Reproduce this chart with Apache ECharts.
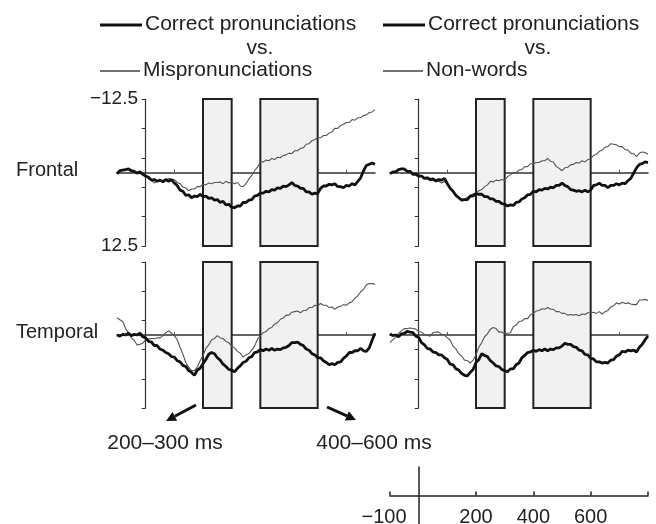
<!DOCTYPE html>
<html>

<head>
    <meta charset="utf-8" />
    <script src="https://cdn.jsdelivr.net/npm/echarts@6/dist/echarts.min.js"></script>
</head>

<body style="margin:0">
    <div id="main" style="width: 656px;height:524px;"></div>
    <script type="text/javascript">
        // sample times (ms), one value every 10 ms from -100 to 800
        const times = [];
        for (let t = -100; t <= 800; t += 10) times.push(t);

        // analysis windows (ms)
        const windows = [[200, 300], [400, 600]];

        // Frontal, left: correct pronunciations vs mispronunciations (µV)
        const frontalCorrectL = [
            0.2, -0.3, -0.4, -0.5, -0.6, -0.3, -0.2, 0.1, -0.1, 0.3,
            0.6, 0.8, 1.3, 1.2, 1.5, 1.3, 1.6, 1.2, 1.5, 1.2,
            1.8, 2.2, 3.0, 3.2, 3.9, 3.8, 4.3, 4.0, 4.1, 3.7,
            4.1, 4.0, 4.4, 4.3, 4.7, 4.6, 5.1, 4.9, 5.5, 5.4,
            5.9, 6.0, 5.7, 5.7, 5.1, 5.1, 4.7, 4.6, 4.0, 3.9,
            3.5, 3.5, 3.2, 3.3, 2.9, 3.0, 2.6, 2.7, 2.3, 2.4,
            2.1, 1.7, 2.2, 2.3, 2.7, 2.7, 3.3, 3.3, 3.7, 3.5,
            3.6, 2.7, 2.3, 2.3, 2.0, 2.1, 1.9, 2.4, 2.4, 2.6,
            2.2, 2.3, 1.9, 2.1, 1.5, 0.9, -0.3, -1.2, -1.4, -1.6,
            -1.4
        ];
        const frontalMispron = [
            0.2, -0.2, -0.4, -0.5, -0.5, -0.3, -0.1, 0.1, 0.1, 0.4,
            0.5, 1.1, 1.3, 1.8, 1.4, 1.5, 1.3, 1.3, 1.0, 1.2,
            1.2, 1.7, 1.9, 2.5, 2.6, 3.1, 2.8, 2.8, 2.4, 2.4,
            2.0, 2.1, 1.8, 1.9, 1.7, 1.7, 1.6, 1.9, 1.5, 1.8,
            1.6, 1.9, 1.7, 2.3, 2.4, 1.9, 1.1, 0.5, -0.3, -0.9,
            -1.8, -1.8, -2.1, -2.0, -2.4, -2.2, -2.6, -2.5, -2.9, -3.0,
            -3.3, -3.2, -3.7, -3.7, -4.1, -4.2, -4.8, -4.9, -5.4, -5.6,
            -5.9, -5.9, -6.3, -6.3, -6.7, -6.9, -7.5, -7.5, -8.0, -8.2,
            -8.5, -8.5, -9.0, -8.9, -9.3, -9.3, -9.7, -9.8, -10.2, -10.3,
            -10.7
        ];
        // Frontal, right: correct pronunciations vs non-words
        const frontalCorrectR = [
            0.2, -0.1, -0.1, -0.5, -0.6, -0.6, -0.2, -0.2, 0.3, 0.3,
            0.6, 0.6, 1.0, 0.9, 1.2, 1.1, 1.4, 1.2, 1.3, 1.0,
            1.9, 2.7, 3.2, 3.9, 4.3, 4.7, 4.6, 4.6, 4.0, 4.0,
            3.6, 3.7, 3.7, 4.1, 4.1, 4.5, 4.5, 4.9, 4.9, 5.3,
            5.4, 5.7, 5.5, 5.6, 5.1, 5.0, 4.5, 4.3, 3.8, 3.7,
            3.2, 3.3, 2.9, 3.0, 2.7, 2.8, 2.5, 2.6, 2.2, 2.2,
            1.8, 2.2, 2.4, 2.9, 3.0, 3.2, 3.1, 3.3, 3.0, 3.3,
            3.0, 2.2, 2.1, 1.8, 2.2, 2.2, 2.6, 2.2, 2.2, 1.9,
            2.1, 1.8, 1.9, 1.4, 1.0, 0.1, -0.8, -1.4, -1.5, -1.8,
            -1.7
        ];
        const frontalNonword = [
            0.2, -0.1, -0.2, -0.5, -0.5, -0.5, -0.1, -0.2, 0.2, 0.1,
            0.4, 0.6, 1.1, 1.0, 1.4, 1.3, 1.6, 1.5, 1.8, 1.5,
            2.0, 2.5, 3.3, 3.8, 4.4, 4.5, 4.6, 4.2, 4.0, 3.6,
            3.5, 3.1, 2.9, 2.4, 2.1, 1.5, 1.6, 1.3, 1.4, 1.2,
            1.3, 0.7, 0.4, 0.0, 0.0, -0.4, -0.5, -1.0, -1.0, -1.5,
            -1.5, -1.7, -1.7, -2.0, -2.0, -2.4, -1.9, -1.8, -1.0, -0.7,
            -0.3, -0.8, -0.9, -1.3, -1.4, -1.7, -1.6, -2.0, -1.8, -2.2,
            -2.3, -2.9, -3.1, -3.6, -3.8, -4.3, -4.4, -4.9, -4.8, -4.7,
            -4.4, -4.4, -3.9, -3.8, -3.3, -3.2, -2.7, -3.3, -3.5, -3.4,
            -3.1
        ];
        // Temporal, left
        const temporalCorrectL = [
            0.0, 0.2, -0.1, 0.0, -0.3, 0.1, -0.1, 0.0, -0.3, 0.3,
            0.5, 1.1, 1.2, 1.8, 1.8, 2.4, 2.6, 3.0, 3.2, 3.7,
            3.8, 4.4, 4.6, 5.2, 5.4, 6.1, 6.4, 6.9, 6.0, 5.7,
            4.9, 4.2, 3.3, 3.0, 3.2, 3.9, 4.3, 5.0, 5.4, 5.9,
            6.0, 6.3, 5.7, 5.3, 4.7, 4.5, 3.9, 3.7, 3.0, 2.9,
            2.5, 2.7, 2.4, 2.6, 2.3, 2.6, 2.4, 2.5, 2.2, 2.1,
            1.8, 1.3, 1.3, 1.2, 1.6, 1.8, 2.4, 2.6, 3.2, 3.4,
            3.9, 3.9, 4.4, 4.7, 5.1, 4.9, 5.1, 4.7, 4.6, 4.0,
            3.6, 3.0, 3.0, 2.7, 2.7, 2.3, 2.7, 2.8, 2.2, 0.9,
            -0.3
        ];
        const temporalMispron = [
            -2.9, -2.6, -2.3, -1.1, -0.4, 0.5, 0.9, 1.7, 1.6, 1.4,
            0.8, 0.7, 0.6, 0.6, 0.5, 0.5, 0.1, -0.4, -0.7, -0.3,
            0.1, 0.8, 2.1, 3.3, 4.7, 5.5, 6.1, 6.1, 5.5, 4.4,
            3.5, 2.3, 1.7, 0.8, 0.6, 0.1, 0.5, 0.6, 1.1, 1.3,
            1.9, 2.2, 2.8, 3.1, 3.8, 3.4, 3.2, 2.6, 1.9, 0.7,
            0.1, -0.4, -0.6, -1.1, -1.3, -1.9, -2.1, -2.7, -2.9, -3.4,
            -3.4, -3.9, -4.0, -4.1, -3.8, -4.2, -4.2, -4.7, -4.7, -5.1,
            -5.0, -5.4, -5.1, -5.1, -4.7, -4.8, -4.4, -4.8, -4.9, -5.2,
            -5.1, -5.5, -5.7, -6.3, -6.7, -7.4, -7.8, -8.6, -8.8, -8.8,
            -8.7
        ];
        // Temporal, right
        const temporalCorrectR = [
            -0.2, 0.1, 0.0, 0.3, -0.2, -0.3, -0.6, -0.5, -0.4, 0.2,
            0.4, 1.3, 1.7, 2.3, 2.4, 2.9, 3.0, 3.4, 3.4, 3.9,
            4.2, 5.0, 5.1, 5.8, 6.0, 6.6, 6.9, 7.0, 6.4, 5.9,
            4.7, 4.2, 3.2, 3.5, 3.7, 4.4, 4.8, 5.3, 5.4, 5.9,
            6.1, 6.3, 5.8, 5.8, 5.1, 4.8, 3.9, 3.5, 3.0, 2.9,
            2.6, 2.8, 2.5, 2.7, 2.4, 2.7, 2.4, 2.5, 2.2, 2.2,
            1.9, 1.4, 1.6, 1.6, 2.0, 2.1, 2.6, 2.7, 3.3, 3.4,
            4.0, 4.1, 4.6, 4.6, 4.8, 4.7, 4.8, 4.3, 4.2, 3.6,
            3.4, 2.8, 2.9, 2.6, 2.7, 2.6, 2.9, 2.1, 1.6, 0.8,
            0.2
        ];
        const temporalNonword = [
            1.3, 0.8, 0.4, -0.3, -0.7, -1.1, -1.1, -1.2, -1.1, -1.0,
            -0.6, -0.5, -0.1, 0.1, 0.2, -0.4, -0.5, -0.5, -0.1, 0.0,
            0.5, 0.9, 1.9, 2.4, 3.2, 3.6, 4.3, 4.4, 4.8, 4.3,
            3.4, 2.1, 1.3, 0.3, -0.2, -1.0, -1.3, -1.1, -0.5, -0.5,
            -0.2, -0.3, -0.4, -1.4, -1.7, -2.3, -2.4, -2.8, -2.8, -3.5,
            -3.7, -4.1, -4.2, -4.5, -4.4, -4.7, -4.4, -4.4, -4.0, -4.0,
            -3.7, -3.7, -3.4, -3.5, -3.4, -3.5, -3.3, -3.6, -3.5, -3.8,
            -3.8, -3.9, -3.7, -4.0, -3.6, -4.0, -4.2, -4.8, -5.0, -5.5,
            -5.3, -5.6, -5.4, -5.5, -5.3, -5.2, -5.2, -6.0, -6.0, -6.1,
            -5.9
        ];

        const yTicks = [-12.5, -7.5, -2.5, 2.5, 7.5, 12.5];
        const yLabels = [-12.5, 12.5];
        const xTicks = [100, 300, 500, 700];
        const scaleTicks = [-100, 200, 400, 600, 800];
        const scaleLabels = [-100, 200, 400, 600];

        const FONT = 'Liberation Sans';
        const minus = v => (v < 0 ? '\u2212' + Math.abs(v) : String(v));
        const pair = vals => vals.map((v, i) => [times[i], v]);

        const grids = [
            { left: 117, top: 99, width: 258, height: 147 },
            { left: 390, top: 99, width: 258, height: 147 },
            { left: 117, top: 262, width: 258, height: 146 },
            { left: 390, top: 262, width: 258, height: 146 },
            { left: 390, top: 467, width: 258, height: 57 }
        ].map(g => Object.assign(g, { outerBoundsMode: 'none', containLabel: false }));

        const xAxes = [0, 1, 2, 3].map(i => ({
            gridIndex: i,
            type: 'value',
            min: -100,
            max: 800,
            axisLine: { onZero: true, lineStyle: { color: '#333', width: 1.5 } },
            axisTick: { inside: true, length: 3, customValues: xTicks, lineStyle: { color: '#555' } },
            axisLabel: { show: false },
            splitLine: { show: false }
        }));
        xAxes.push({
            gridIndex: 4,
            type: 'value',
            min: -100,
            max: 800,
            axisLine: { onZero: true, lineStyle: { color: '#222', width: 1.5 } },
            axisTick: { inside: true, length: 4, customValues: scaleTicks, lineStyle: { color: '#222', width: 1.5 } },
            axisLabel: {
                customValues: scaleLabels, margin: -17, hideOverlap: false,
                formatter: v => (v === -100 ? '{n|' + minus(v) + '}' : minus(v)),
                rich: { n: { fontSize: 20, color: '#222', fontFamily: FONT, padding: [0, 12, 0, 0] } },
                fontSize: 20, color: '#222', fontFamily: FONT
            },
            splitLine: { show: false }
        });

        const yAxes = [0, 1, 2, 3].map(i => ({
            gridIndex: i,
            type: 'value',
            inverse: true,
            min: -12.5,
            max: 12.5,
            axisLine: { show: true, onZero: true, lineStyle: { color: '#333', width: 1.2 } },
            axisTick: { show: true, length: 4, customValues: yTicks, lineStyle: { color: '#333' } },
            axisLabel: {
                show: i === 0, customValues: yLabels, formatter: minus, margin: -21,
                fontSize: 19, color: '#222', fontFamily: FONT
            },
            splitLine: { show: false }
        }));
        yAxes.push({
            gridIndex: 4,
            type: 'value',
            min: -1,
            max: 1,
            axisLine: { show: true, onZero: true, lineStyle: { color: '#222', width: 1.5 } },
            axisTick: { show: false },
            axisLabel: { show: false },
            splitLine: { show: false }
        });

        const boxes = {
            silent: true,
            itemStyle: { color: '#f1f1f1', borderColor: '#222', borderWidth: 2 },
            data: windows.map(w => [{ xAxis: w[0] }, { xAxis: w[1] }])
        };

        function thick(name, vals, idx) {
            return {
                name, type: 'line', xAxisIndex: idx, yAxisIndex: idx, data: pair(vals),
                symbol: 'none', z: 4,
                lineStyle: { color: '#111', width: 2.8 },
                markArea: boxes
            };
        }
        function thin(name, vals, idx) {
            return {
                name, type: 'line', xAxisIndex: idx, yAxisIndex: idx, data: pair(vals),
                symbol: 'none', z: 3,
                lineStyle: { color: '#555', width: 1.1 }
            };
        }

        function arrow(x1, y1, x2, y2) {
            const a = Math.atan2(y2 - y1, x2 - x1), L = 10, W = 5;
            const bx = x2 - L * Math.cos(a), by = y2 - L * Math.sin(a);
            return [
                { type: 'line', shape: { x1, y1, x2: bx, y2: by }, style: { stroke: '#111', lineWidth: 3 } },
                {
                    type: 'polygon',
                    shape: { points: [[x2, y2], [bx + W * Math.sin(a), by - W * Math.cos(a)], [bx - W * Math.sin(a), by + W * Math.cos(a)]] },
                    style: { fill: '#111' }
                }
            ];
        }

        function label(text, x, y, align, size) {
            return {
                type: 'text', x, y,
                style: { text, fontSize: size || 20, fontFamily: FONT, fill: '#222', align: align || 'left', verticalAlign: 'middle' }
            };
        }

        // legend keys: sample line + name
        function key(x, y, len, width, color, text) {
            return [
                { type: 'line', shape: { x1: x, y1: y, x2: x + len, y2: y }, style: { stroke: color, lineWidth: width } },
                label(text, x + len + 3, y - 1, 'left', 21)
            ];
        }

        const myChart = echarts.init(document.getElementById('main'), null, { renderer: 'canvas' });
        const option = {
            animation: false,
            backgroundColor: '#fff',
            textStyle: { fontFamily: FONT },
            grid: grids,
            xAxis: xAxes,
            yAxis: yAxes,
            series: [
                thick('Correct pronunciations', frontalCorrectL, 0),
                thin('Mispronunciations', frontalMispron, 0),
                thick('Correct pronunciations', frontalCorrectR, 1),
                thin('Non-words', frontalNonword, 1),
                thick('Correct pronunciations', temporalCorrectL, 2),
                thin('Mispronunciations', temporalMispron, 2),
                thick('Correct pronunciations', temporalCorrectR, 3),
                thin('Non-words', temporalNonword, 3)
            ],
            graphic: [].concat(
                key(100, 25, 42, 3, '#111', 'Correct pronunciations'),
                key(100, 71, 40, 1.3, '#444', 'Mispronunciations'),
                key(383, 25, 42, 3, '#111', 'Correct pronunciations'),
                key(383, 71, 40, 1.3, '#444', 'Non-words'),
                [
                    label('vs.', 260, 48, 'center', 21),
                    label('vs.', 538, 48, 'center', 21),
                    label('Frontal', 16, 170),
                    label('Temporal', 16, 332),
                    label('200\u2013300 ms', 165, 443, 'center', 21),
                    label('400\u2013600 ms', 374, 443, 'center', 21)
                ],
                arrow(196, 405, 166, 421),
                arrow(327, 407, 356, 420)
            )
        };
        myChart.setOption(option);

        window.addEventListener('resize', myChart.resize);
    </script>
</body>

</html>
